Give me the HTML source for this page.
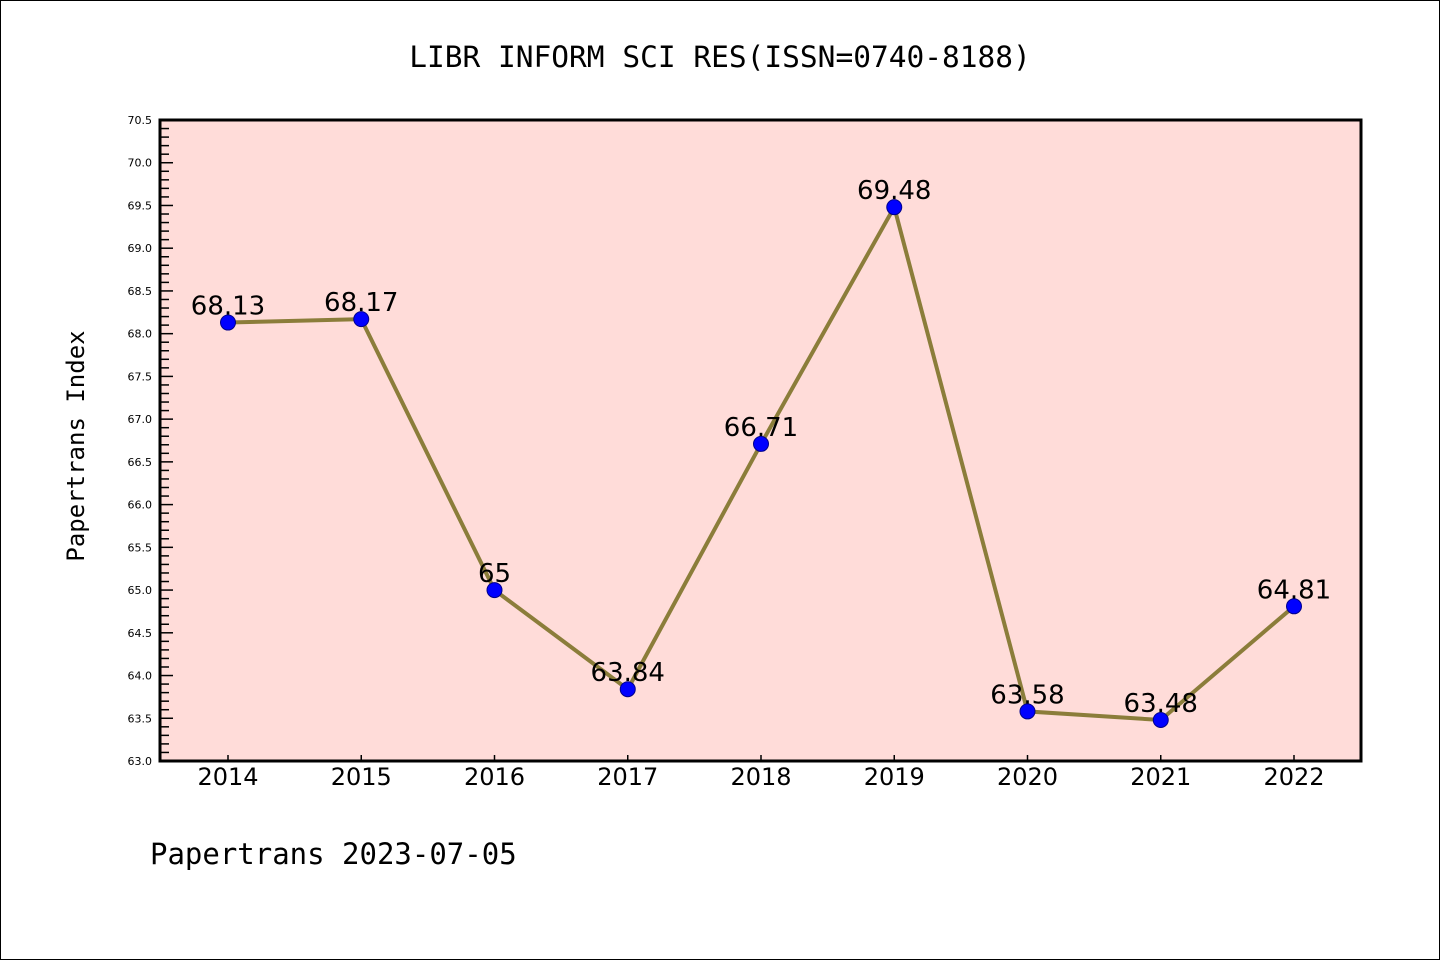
<!DOCTYPE html>
<html><head><meta charset="utf-8"><style>
html,body{margin:0;padding:0;background:#fff;}
svg{display:block;}
.sans{font-family:"DejaVu Sans","Liberation Sans",sans-serif;}
.mono{font-family:"DejaVu Sans Mono","Liberation Mono",monospace;}
</style></head><body>
<svg id="chart" width="1440" height="960">
<rect x="0.5" y="0.5" width="1439" height="959" fill="#fff" stroke="#000"/>
<text class="mono" x="720" y="67" text-anchor="middle" font-size="29.5">LIBR INFORM SCI RES(ISSN=0740-8188)</text>
<rect x="160" y="120" width="1201" height="641" fill="#ffdcd9"/>
<g id="axes"></g>
<g id="series"></g>
<rect x="160" y="120" width="1201" height="641" fill="none" stroke="#000" stroke-width="3"/>
<text class="mono" transform="translate(84,446) rotate(-90)" text-anchor="middle" font-size="24">Papertrans Index</text>
<text class="mono" x="150" y="864" font-size="29">Papertrans 2023-07-05</text>
</svg>
<script>
const years = ["2014","2015","2016","2017","2018","2019","2020","2021","2022"];
const values = [68.13,68.17,65,63.84,66.71,69.48,63.58,63.48,64.81];
const labels = ["68.13","68.17","65","63.84","66.71","69.48","63.58","63.48","64.81"];
const yTicks = ["63.0","63.5","64.0","64.5","65.0","65.5","66.0","66.5","67.0","67.5","68.0","68.5","69.0","69.5","70.0","70.5"];
(function(){
const NS="http://www.w3.org/2000/svg";
const yMin=63, yMax=70.5, pTop=120, pBot=761;
const y=v=>pBot-(v-yMin)/(yMax-yMin)*(pBot-pTop);
const x=i=>228+i*133.25;
function mk(t,a,p){const e=document.createElementNS(NS,t);for(const k in a)e.setAttribute(k,a[k]);p.appendChild(e);return e;}
const ax=document.getElementById('axes'), sr=document.getElementById('series');
for(let v=630;v<=705;v++){
  const val=v/10, major=v%5===0;
  const l=mk('line',{x1:160,x2:160+(major?13:9),y1:y(val),y2:y(val),stroke:'#000','stroke-width':1.5},ax);
  
  
}
yTicks.forEach(t=>{
  const e=mk('text',{x:152,y:y(parseFloat(t))+4,'text-anchor':'end','font-size':11,'class':'sans'},ax);
  e.textContent=t;
  
  
});
years.forEach((yr,i)=>{
  const l=mk('line',{x1:x(i),x2:x(i),y1:pBot,y2:pBot-6,stroke:'#000','stroke-width':1.5},ax);
  
  
  const e=mk('text',{x:x(i),y:785,'text-anchor':'middle','font-size':24,'class':'sans'},ax);
  e.textContent=yr;
  
  
});
const pl=mk('polyline',{points:values.map((v,i)=>x(i)+','+y(v)).join(' '),fill:'none',stroke:'#8b7d3a','stroke-width':4},sr);


values.forEach((v,i)=>{
  const c=mk('circle',{cx:x(i),cy:y(v),r:7.5,fill:'#0000ff',stroke:'#00008b','stroke-width':1},sr);
  
  
  const t=mk('text',{x:x(i),y:y(v)-8,'text-anchor':'middle','font-size':26,'class':'sans'},sr);
  t.textContent=labels[i];
  
  
});
})();
</script>
</body></html>
